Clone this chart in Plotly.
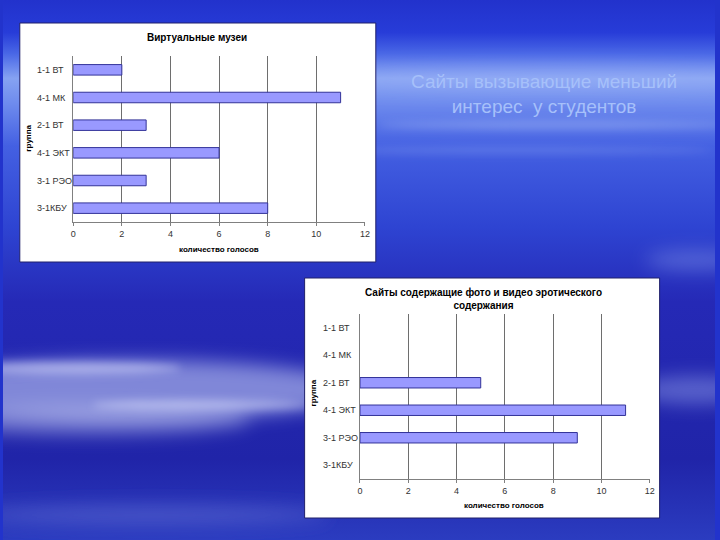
import base64
import plotly.graph_objects as go

# ---- data ----
categories = ["1-1 ВТ", "4-1 МК", "2-1 ВТ", "4-1 ЭКТ", "3-1 РЭО", "3-1КБУ"]
museum_votes = [2, 11, 3, 6, 3, 8]
erotic_votes = [0, 0, 5, 11, 9, 0]
x_ticks = [0, 2, 4, 6, 8, 10, 12]

chart1_title = "Виртуальные музеи"
chart2_title = "Сайты содержащие фото и видео эротического<br>содержания"
x_title = "количество голосов"
y_title = "группа"
slide_title = "Сайты вызывающие меньший<br>интерес  у студентов"

W, H = 720, 540
FONT = "Arial, Liberation Sans, sans-serif"

# ---- background (slide) ----
bg_svg = """<svg xmlns="http://www.w3.org/2000/svg" width="720" height="540" viewBox="0 0 720 540">
<defs>
<linearGradient id="g" x1="0" y1="0" x2="0" y2="1">
<stop offset="0" stop-color="#2232cc"/>
<stop offset="0.06" stop-color="#273cd8"/>
<stop offset="0.10" stop-color="#4a68e6"/>
<stop offset="0.145" stop-color="#86a2f2"/>
<stop offset="0.19" stop-color="#6f8cee"/>
<stop offset="0.27" stop-color="#4460e2"/>
<stop offset="0.42" stop-color="#2e44d2"/>
<stop offset="0.56" stop-color="#2529b6"/>
<stop offset="0.85" stop-color="#2024a8"/>
<stop offset="1" stop-color="#2b3cc0"/>
</linearGradient>
<filter id="b" x="-50%" y="-50%" width="200%" height="200%"><feGaussianBlur stdDeviation="9"/></filter>
<filter id="s" x="-50%" y="-50%" width="200%" height="200%"><feGaussianBlur stdDeviation="4"/></filter>
</defs>
<rect width="720" height="540" fill="url(#g)"/>
<g filter="url(#b)">
<ellipse cx="560" cy="78" rx="260" ry="12" fill="#a8bef8" opacity="0.35"/>
<ellipse cx="130" cy="390" rx="230" ry="30" fill="#a8b0ea" opacity="0.7"/>
<ellipse cx="90" cy="420" rx="160" ry="14" fill="#c0c6f2" opacity="0.5"/>
<ellipse cx="700" cy="390" rx="60" ry="14" fill="#9aa8ee" opacity="0.45"/>
<ellipse cx="700" cy="260" rx="50" ry="10" fill="#8ea2ee" opacity="0.4"/>
<ellipse cx="150" cy="515" rx="180" ry="10" fill="#5a68d0" opacity="0.6"/>
</g>
<g filter="url(#s)">
<ellipse cx="60" cy="368" rx="120" ry="6" fill="#e0e4ff" opacity="0.5"/>
<ellipse cx="200" cy="405" rx="110" ry="5" fill="#e0e4ff" opacity="0.45"/>
<ellipse cx="560" cy="125" rx="180" ry="4" fill="#a8bcf6" opacity="0.45"/>
<ellipse cx="520" cy="150" rx="200" ry="3" fill="#8aa2f0" opacity="0.45"/>
</g>
</svg>"""
bg_uri = "data:image/svg+xml;base64," + base64.b64encode(bg_svg.encode("utf-8")).decode("ascii")

fig = go.Figure()

def bar_marker(values):
    return dict(color="#9999ff",
                line=dict(color="#333399", width=[1 if v > 0 else 0 for v in values]))

fig.add_trace(go.Bar(x=museum_votes, y=categories, orientation="h",
                     marker=bar_marker(museum_votes), width=0.38, xaxis="x", yaxis="y",
                     showlegend=False, hoverinfo="x+y"))
fig.add_trace(go.Bar(x=erotic_votes, y=categories, orientation="h",
                     marker=bar_marker(erotic_votes), width=0.38, xaxis="x2", yaxis="y2",
                     showlegend=False, hoverinfo="x+y"))

def px_x(v):
    return v / W

def px_y(v):
    return 1 - v / H

xaxis_common = dict(range=[0, 12], tickvals=x_ticks, showgrid=True, gridcolor="#6e6e6e",
                    gridwidth=1, zeroline=False, showline=True, linecolor="#808080",
                    ticks="outside", ticklen=3, tickcolor="#808080",
                    tickfont=dict(family=FONT, size=9, color="#333333"), fixedrange=True)
yaxis_common = dict(categoryorder="array", categoryarray=categories, autorange="reversed",
                    showticklabels=False, showgrid=False, zeroline=False,
                    showline=True, linecolor="#808080", ticks="", fixedrange=True)

fig.update_layout(
    width=W, height=H,
    margin=dict(l=0, r=0, t=0, b=0),
    paper_bgcolor="#2233cc",
    plot_bgcolor="#c0c0c0",
    xaxis=dict(domain=[px_x(71), px_x(366)], anchor="y", **xaxis_common),
    yaxis=dict(domain=[px_y(222), px_y(56)], anchor="x", **yaxis_common),
    xaxis2=dict(domain=[px_x(361), px_x(654)], anchor="y2", **xaxis_common),
    yaxis2=dict(domain=[px_y(479), px_y(314)], anchor="x2", **yaxis_common),
    images=[dict(source=bg_uri, xref="paper", yref="paper", x=0, y=1,
                 sizex=1, sizey=1, sizing="stretch", layer="below")],
    shapes=[
        dict(type="rect", xref="paper", yref="paper", layer="below",
             x0=px_x(17), x1=px_x(377), y0=px_y(262), y1=px_y(23),
             fillcolor="#ffffff", line=dict(color="#20206a", width=1)),
        dict(type="rect", xref="paper", yref="paper", layer="below",
             x0=px_x(305), x1=px_x(664), y0=px_y(518), y1=px_y(278),
             fillcolor="#ffffff", line=dict(color="#20206a", width=1)),
    ],
)

annotations = []
# category labels (left aligned like the original)
for yref, xpos in (("y", 32), ("y2", 322)):
    for c in categories:
        annotations.append(dict(text=c, xref="paper", yref=yref, x=px_x(xpos), y=c,
                                xanchor="left", yanchor="middle", showarrow=False,
                                font=dict(family=FONT, size=9, color="#333333")))

annotations += [
    dict(text="<b>" + chart1_title + "</b>", xref="paper", yref="paper",
         x=px_x(196), y=px_y(37), showarrow=False, xanchor="center", yanchor="middle",
         font=dict(family=FONT, size=10, color="#000000")),
    dict(text="<b>" + chart2_title + "</b>", xref="paper", yref="paper",
         x=px_x(486), y=px_y(299), showarrow=False, xanchor="center", yanchor="middle",
         font=dict(family=FONT, size=10, color="#000000")),
    dict(text="<b>" + x_title + "</b>", xref="paper", yref="paper",
         x=px_x(218), y=px_y(249), showarrow=False, xanchor="center", yanchor="middle",
         font=dict(family=FONT, size=8, color="#000000")),
    dict(text="<b>" + x_title + "</b>", xref="paper", yref="paper",
         x=px_x(507), y=px_y(505), showarrow=False, xanchor="center", yanchor="middle",
         font=dict(family=FONT, size=8, color="#000000")),
    dict(text="<b>" + y_title + "</b>", xref="paper", yref="paper", textangle=-90,
         x=px_x(25), y=px_y(138), showarrow=False, xanchor="center", yanchor="middle",
         font=dict(family=FONT, size=8, color="#000000")),
    dict(text="<b>" + y_title + "</b>", xref="paper", yref="paper", textangle=-90,
         x=px_x(313), y=px_y(393), showarrow=False, xanchor="center", yanchor="middle",
         font=dict(family=FONT, size=8, color="#000000")),
    dict(text=slide_title, xref="paper", yref="paper",
         x=px_x(547), y=px_y(94), showarrow=False, xanchor="center", yanchor="middle",
         font=dict(family=FONT, size=19, color="#a6c0fa")),
]
fig.update_layout(annotations=annotations)

fig.write_html("out.html", config={"displayModeBar": False},
               post_script="document.body.style.margin='0';")
